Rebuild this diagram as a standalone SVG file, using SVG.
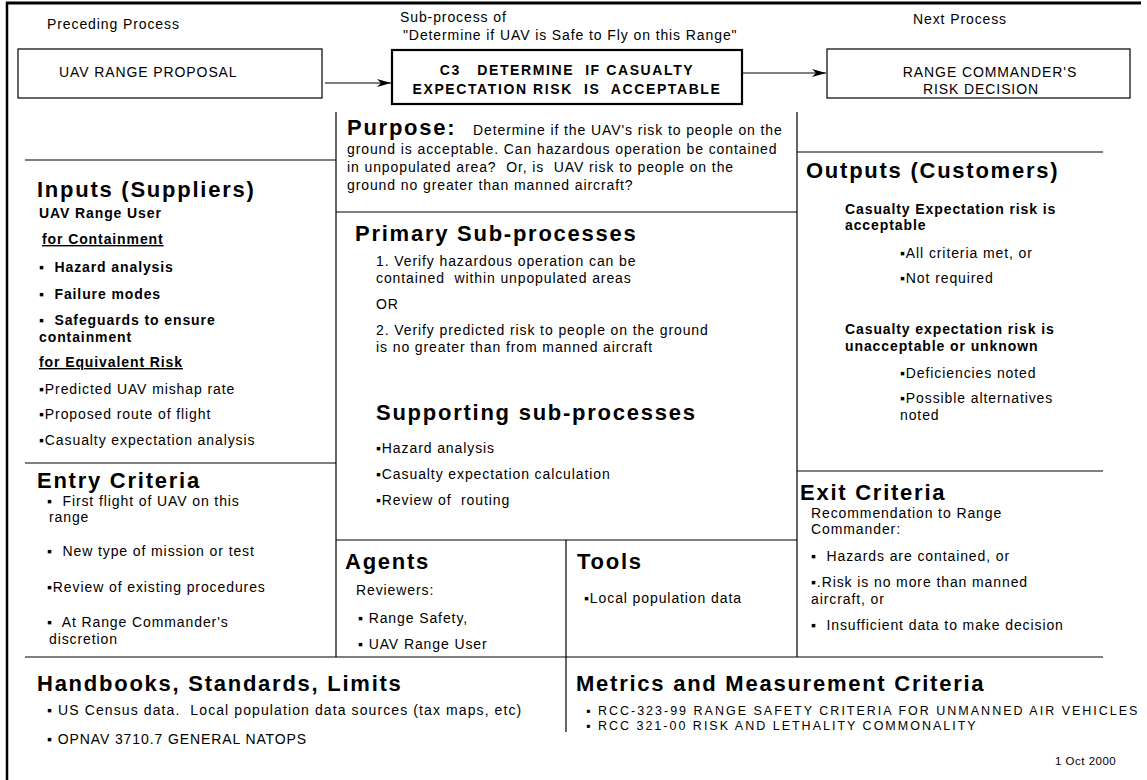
<svg xmlns="http://www.w3.org/2000/svg" width="1147" height="780" viewBox="0 0 1147 780" xml:space="preserve">
<style>
text{font-family:"Liberation Sans",Arial,sans-serif;fill:#000;white-space:pre}
.t{font-size:14px;letter-spacing:0.9px}
.b{font-size:14px;font-weight:bold;letter-spacing:0.9px}
.u{text-decoration:underline}
.h{font-size:22px;font-weight:bold;letter-spacing:1.75px}
.s{font-size:12.5px;letter-spacing:2px}
.c3{font-size:14px;font-weight:bold;letter-spacing:1.6px}
.ln{stroke:#000;stroke-width:1.2;fill:none}
.box{fill:#fff;stroke:#000;stroke-width:1.2}
.arr{stroke:#000;stroke-width:1.2}
</style>
<defs>
<marker id="ah" markerWidth="14" markerHeight="8" refX="14" refY="4" orient="auto" markerUnits="userSpaceOnUse">
<path d="M0,0 L14,4 L0,8 L4,4 z" fill="#000"/>
</marker>
</defs>
<rect width="1147" height="780" fill="#fff"/>
<g id="frame">
<line x1="6" y1="3" x2="1141" y2="3" stroke="#000" stroke-width="3"/>
<line x1="7" y1="2" x2="7" y2="780" stroke="#000" stroke-width="2.5"/>
</g>
<g id="grid" class="ln">
<line x1="336" y1="112" x2="336" y2="657"/>
<line x1="797" y1="112" x2="797" y2="657"/>
<line x1="25" y1="160" x2="336" y2="160"/>
<line x1="25" y1="463" x2="336" y2="463"/>
<line x1="336" y1="212" x2="797" y2="212"/>
<line x1="336" y1="540" x2="797" y2="540"/>
<line x1="566" y1="540" x2="566" y2="732"/>
<line x1="797" y1="152" x2="1103" y2="152"/>
<line x1="797" y1="471" x2="1103" y2="471"/>
<line x1="25" y1="657" x2="1103" y2="657"/>
</g>
<g id="connectors">
<line class="arr" x1="325" y1="83" x2="391" y2="83" marker-end="url(#ah)"/>
<line class="arr" x1="743" y1="73" x2="826" y2="73" marker-end="url(#ah)"/>
</g>
<g id="preceding">
<text class="t" x="47" y="29">Preceding Process</text>
<rect class="box" x="18" y="49" width="304" height="49"/>
<text class="t" x="59" y="77">UAV RANGE PROPOSAL</text>
</g>
<g id="current">
<text class="t" x="400" y="22">Sub-process of</text>
<text class="t" x="403" y="40">"Determine if UAV is Safe to Fly on this Range"</text>
<rect x="392" y="50" width="350" height="54" fill="#fff" stroke="#000" stroke-width="2.2"/>
<text class="c3" x="567" y="75" text-anchor="middle">C3   DETERMINE  IF CASUALTY</text>
<text class="c3" x="567" y="94" text-anchor="middle">EXPECTATION RISK  IS  ACCEPTABLE</text>
</g>
<g id="next">
<text class="t" x="960" y="24" text-anchor="middle">Next Process</text>
<rect class="box" x="827" y="49" width="303" height="49"/>
<text class="t" x="990" y="77" text-anchor="middle">RANGE COMMANDER'S</text>
<text class="t" x="981" y="94" text-anchor="middle">RISK DECISION</text>
</g>
<g id="inputs">
<text class="h" x="37" y="197">Inputs (Suppliers)</text>
<text class="b" x="39" y="218">UAV Range User</text>
<text class="b u" x="42" y="244">for Containment</text>
<text class="b" x="39" y="272">▪  Hazard analysis</text>
<text class="b" x="39" y="299">▪  Failure modes</text>
<text class="b" x="39" y="325">▪  Safeguards to ensure</text>
<text class="b" x="39" y="342">containment</text>
<text class="b u" x="39" y="367">for Equivalent Risk</text>
<text class="t" x="39" y="394">▪Predicted UAV mishap rate</text>
<text class="t" x="39" y="419">▪Proposed route of flight</text>
<text class="t" x="39" y="445">▪Casualty expectation analysis</text>
</g>
<g id="entry">
<text class="h" x="37" y="488">Entry Criteria</text>
<text class="t" x="47" y="506">▪  First flight of UAV on this</text>
<text class="t" x="49" y="522">range</text>
<text class="t" x="47" y="556">▪  New type of mission or test</text>
<text class="t" x="47" y="592">▪Review of existing procedures</text>
<text class="t" x="47" y="627">▪  At Range Commander's</text>
<text class="t" x="49" y="644">discretion</text>
</g>
<g id="purpose">
<text x="347" y="135"><tspan class="h">Purpose:</tspan><tspan class="t" x="473">Determine if the UAV's risk to people on the</tspan></text>
<text class="t" x="347" y="154">ground is acceptable. Can hazardous operation be contained</text>
<text class="t" x="347" y="172">in unpopulated area?  Or, is  UAV risk to people on the</text>
<text class="t" x="347" y="190">ground no greater than manned aircraft?</text>
</g>
<g id="primary">
<text class="h" x="355" y="241">Primary Sub-processes</text>
<text class="t" x="376" y="266">1. Verify hazardous operation can be</text>
<text class="t" x="376" y="283">contained  within unpopulated areas</text>
<text class="t" x="376" y="309">OR</text>
<text class="t" x="376" y="335">2. Verify predicted risk to people on the ground</text>
<text class="t" x="376" y="352">is no greater than from manned aircraft</text>
</g>
<g id="supporting">
<text class="h" x="376" y="420">Supporting sub-processes</text>
<text class="t" x="376" y="453">▪Hazard analysis</text>
<text class="t" x="376" y="479">▪Casualty expectation calculation</text>
<text class="t" x="376" y="505">▪Review of  routing</text>
</g>
<g id="agents">
<text class="h" x="345" y="569">Agents</text>
<text class="t" x="356" y="595">Reviewers:</text>
<text class="t" x="358" y="623">▪ Range Safety,</text>
<text class="t" x="358" y="649">▪ UAV Range User</text>
</g>
<g id="tools">
<text class="h" x="577" y="569">Tools</text>
<text class="t" x="584" y="603">▪Local population data</text>
</g>
<g id="outputs">
<text class="h" x="806" y="178">Outputs (Customers)</text>
<text class="b" x="845" y="214">Casualty Expectation risk is</text>
<text class="b" x="845" y="230">acceptable</text>
<text class="t" x="900" y="258">▪All criteria met, or</text>
<text class="t" x="900" y="283">▪Not required</text>
<text class="b" x="845" y="334">Casualty expectation risk is</text>
<text class="b" x="845" y="351">unacceptable or unknown</text>
<text class="t" x="900" y="378">▪Deficiencies noted</text>
<text class="t" x="900" y="403">▪Possible alternatives</text>
<text class="t" x="900" y="420">noted</text>
</g>
<g id="exit">
<text class="h" x="800" y="500">Exit Criteria</text>
<text class="t" x="811" y="518">Recommendation to Range</text>
<text class="t" x="811" y="534">Commander:</text>
<text class="t" x="811" y="561">▪  Hazards are contained, or</text>
<text class="t" x="811" y="587">▪.Risk is no more than manned</text>
<text class="t" x="811" y="604">aircraft, or</text>
<text class="t" x="811" y="630">▪  Insufficient data to make decision</text>
</g>
<g id="handbooks">
<text class="h" x="37" y="691">Handbooks, Standards, Limits</text>
<text class="t" x="47" y="715" style="letter-spacing:1.1px">▪ US Census data.  Local population data sources (tax maps, etc)</text>
<text class="t" x="47" y="744">▪ OPNAV 3710.7 GENERAL NATOPS</text>
</g>
<g id="metrics">
<text class="h" x="576" y="691">Metrics and Measurement Criteria</text>
<text class="s" x="586" y="715">▪ RCC-323-99 RANGE SAFETY CRITERIA FOR UNMANNED AIR VEHICLES</text>
<text class="s" x="586" y="730">▪ RCC 321-00 RISK AND LETHALITY COMMONALITY</text>
<text class="t" x="1055" y="765" style="font-size:11.5px;letter-spacing:0.5px">1 Oct 2000</text>
</g>
</svg>
